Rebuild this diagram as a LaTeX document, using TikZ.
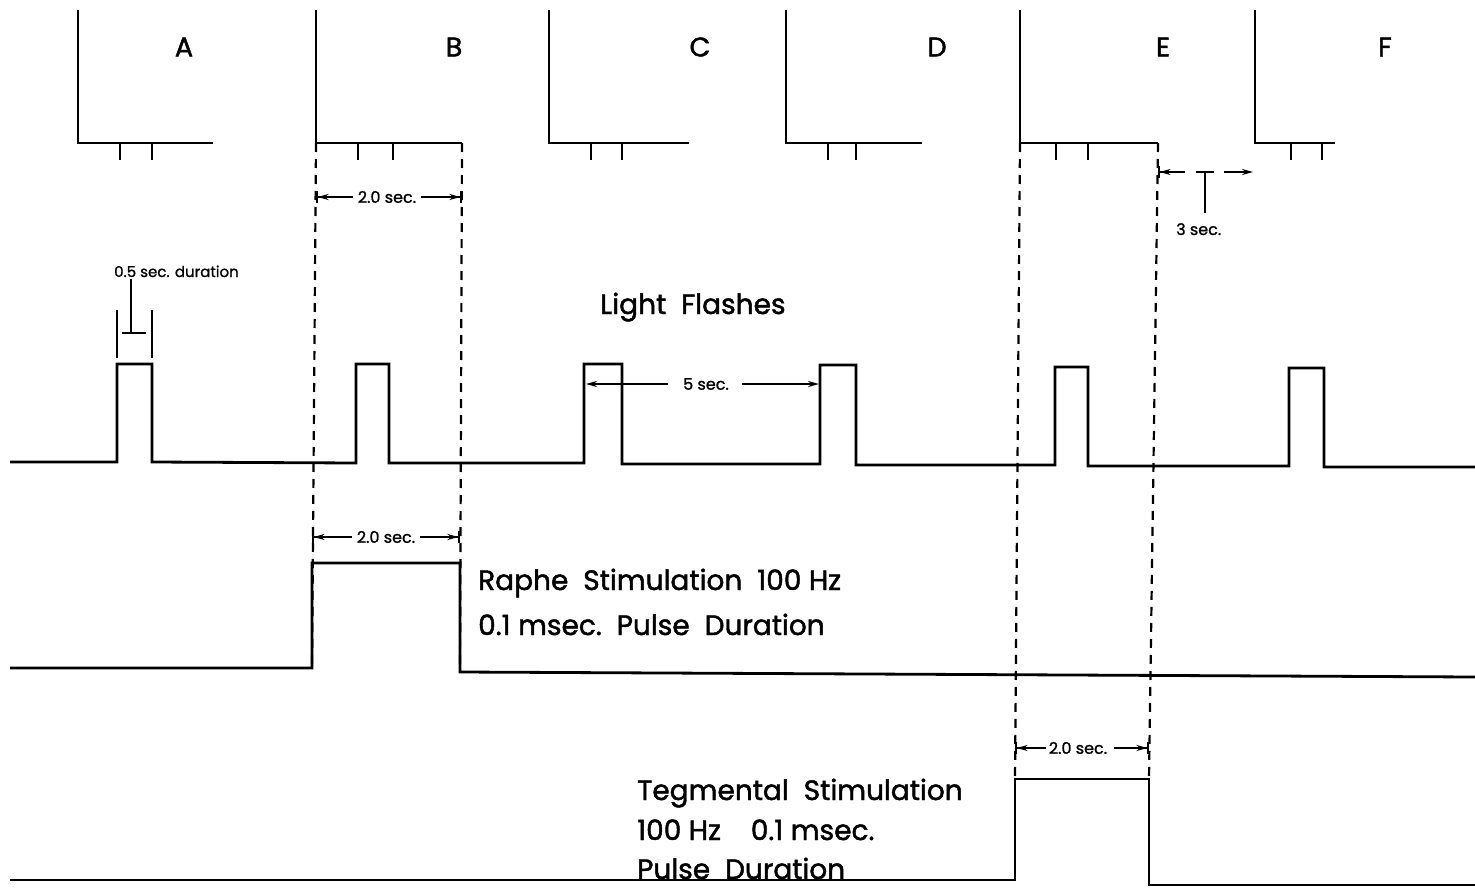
\documentclass[tikz,border=0pt]{standalone}
\usepackage{fontspec}
\setmainfont{Poppins}
\newfontfamily\leroy{Poppins}[FakeBold=1.6]
\newfontfamily\leroysm{Poppins}[FakeBold=1.2]
\usetikzlibrary{arrows.meta}
\begin{document}
\begin{tikzpicture}[x=1pt,y=-1pt,
  sig/.style={line width=2.8pt, line join=miter},
  guide/.style={line width=2.2pt, dash pattern=on 9pt off 7pt},
  dimbar/.style={line width=1.6pt, -{Stealth[length=11pt,width=6pt]Bar[width=12pt,line width=1.6pt]}},
  dimtip/.style={line width=1.6pt, -{Stealth[length=11pt,width=6pt]}},
  big/.style={font=\leroy\fontsize{28}{28}\selectfont, inner sep=0pt},
  letter/.style={font=\leroy\fontsize{27}{27}\selectfont, inner sep=0pt},
  small/.style={font=\leroysm\fontsize{16}{16}\selectfont, inner sep=1pt},
  tiny/.style={font=\leroysm\fontsize{15}{15}\selectfont, inner sep=0pt},
]
\useasboundingbox[fill=white] (0,0) rectangle (1475,888);

% top panels
\foreach \px/\pe/\ta/\tb/\nm/\lx in {78/213/120/152/A/184, 316/462/358/393/B/454, 549/689/591/622/C/700, 786/922/828/856/D/937, 1020/1158/1056/1088/E/1163, 1255/1335/1291/1322/F/1385}{
  \draw[sig] (\px,10) -- (\px,143) -- (\pe,143);
  \draw[sig] (\ta,143) -- (\ta,160);
  \draw[sig] (\tb,143) -- (\tb,160);
  \node[letter] (lab\nm) at (\lx,47) {\nm};
}

% guide lines
\coordinate (b1t) at (316,143); \coordinate (b1b) at (312,668);
\coordinate (b2t) at (462,143); \coordinate (b2b) at (460,672);
\coordinate (e1t) at (1020,143); \coordinate (e1b) at (1015,779);
\coordinate (e2t) at (1158,143); \coordinate (e2b) at (1149,779);
\draw[guide] (b1t) -- (b1b);
\draw[guide] (b2t) -- (b2b);
\draw[guide] (e1t) -- (e1b);
\draw[guide] (e2t) -- (e2b);

% light flash trace
\draw[sig] (10,462) -- (117,462) -- (117,364) -- (152,364) -- (152,462) -- (356,463) -- (356,364) -- (389,364) -- (389,463)
  -- (584,463) -- (584,364) -- (622,364) -- (622,464) -- (820,464) -- (820,365) -- (856,365) -- (856,465)
  -- (1055,465) -- (1055,367) -- (1088,367) -- (1088,466) -- (1289,466) -- (1289,368) -- (1324,368) -- (1324,467) -- (1475,467);

% raphe trace
\draw[sig] (10,668) -- (312,668) -- (312,563) -- (460,563) -- (460,672) -- (1475,677);
% tegmental trace
\draw[sig] (10,880) -- (1015,880) -- (1015,779) -- (1149,779) -- (1149,885) -- (1475,885);

% 2.0 sec dimension (B top)
\node[small] (d1) at (387,197) {2.0 sec.};
\coordinate (d1l) at (316,197); \coordinate (d1r) at (462,197);
\draw[dimbar] ([xshift=-4pt]d1.west) -- (d1l);
\draw[dimbar] ([xshift=4pt]d1.east) -- (d1r);

% 2.0 sec dimension (raphe)
\node[small] (d2) at (386,537) {2.0 sec.};
\coordinate (d2l) at (312,537); \coordinate (d2r) at (460,537);
\draw[dimbar] ([xshift=-4pt]d2.west) -- (d2l);
\draw[dimbar] ([xshift=4pt]d2.east) -- (d2r);

% 2.0 sec dimension (tegmental)
\node[small] (d3) at (1078,748) {2.0 sec.};
\coordinate (d3l) at (1015,748); \coordinate (d3r) at (1149,748);
\draw[dimbar] ([xshift=-2pt]d3.west) -- (d3l);
\draw[dimbar] ([xshift=6pt]d3.east) -- (d3r);

% 5 sec dimension
\node[small] (d4) at (706,384) {5 sec.};
\coordinate (d4l) at (586,384); \coordinate (d4r) at (819,384);
\draw[dimtip] (668,384) -- (d4l);
\draw[dimtip] (742,384) -- (d4r);

% 3 sec marker
\coordinate (t3l) at (1158,172); \coordinate (t3r) at (1253,172);
\draw[dimbar, line width=1.2pt] (1185,172) -- (t3l);
\draw[dimtip] (1224,172) -- (t3r);
\draw[line width=2pt] (1196,172) -- (1214,172);
\draw[line width=2pt] (1205,172) -- (1205,213);
\node[small, anchor=base west] (d5) at (1175,235) {3 sec.};

% 0.5 sec duration bracket
\draw[line width=2pt] (117,310) -- (117,358);
\draw[line width=2pt] (152,310) -- (152,358);
\draw[line width=2pt] (122,333) -- (146,333);
\draw[line width=2pt] (131,279) -- (131,333);
\node[tiny, anchor=base west] (d6) at (114,277) {0.5 sec. duration};

% labels
\node[big, anchor=base west] (lf) at (600,314) {Light\ \ Flashes};
\node[big, anchor=base west] (r1) at (478,590) {Raphe\ \ Stimulation\ \ 100 Hz};
\node[big, anchor=base west] (r2) at (478,635) {0.1 msec.\ \ Pulse\ \ Duration};
\node[big, anchor=base west] (t1) at (637,800) {Tegmental\ \ Stimulation};
\node[big, anchor=base west] (t2) at (637,840) {100 Hz\ \ \ \ 0.1 msec.};
\node[big, anchor=base west] (t3) at (637,879) {Pulse\ \ Duration};
\end{tikzpicture}
\end{document}
